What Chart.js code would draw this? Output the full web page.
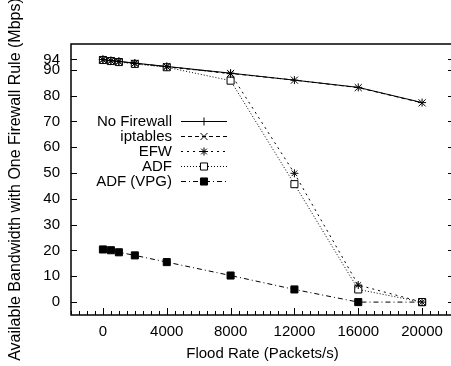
<!DOCTYPE html>
<html>
<head>
<meta charset="utf-8">
<script src="https://cdn.jsdelivr.net/npm/chart.js@4/dist/chart.umd.min.js"></script>
<style>
html, body { margin: 0; padding: 0; background: #fff; overflow: hidden; }
#wrap { width: 451px; height: 366px; overflow: hidden; }
</style>
</head>
<body>
<div id="wrap"><canvas id="chart" width="460" height="366"></canvas></div>
<script>
// values
const floodRates = [0, 500, 1000, 2000, 4000, 8000, 12000, 16000, 20000];
const noFirewall = [94.0, 93.6, 93.3, 92.6, 91.3, 88.7, 86.0, 83.2, 77.3];
const iptables   = [93.9, 93.5, 93.2, 92.5, 91.2, 88.6, 86.0, 83.1, 77.2];
const efw        = [94.0, 93.5, 93.2, 92.5, 91.2, 88.5, 49.9, 6.6, 0.0];
const adf        = [93.8, 93.4, 93.0, 92.3, 91.0, 85.8, 45.7, 4.9, 0.0];
const adfVpg     = [20.4, 20.1, 19.3, 18.1, 15.5, 10.3, 4.9, 0.0, 0.0];

const yTicks = [0, 10, 20, 30, 40, 50, 60, 70, 80, 90, 94];
const xTicks = [0, 4000, 8000, 12000, 16000, 20000];
const xMinorStep = 500;

const FONT = '"Liberation Sans", Arial, Helvetica, sans-serif';

const series = [
    { label: 'No Firewall', data: noFirewall, dash: [],           style: 'cross',    r: 4, fill: '#000' },
    { label: 'iptables',    data: iptables,   dash: [4, 3],       style: 'crossRot', r: 5, fill: '#000' },
    { label: 'EFW',         data: efw,        dash: [2, 4],       style: 'star',     r: 4, fill: '#000' },
    { label: 'ADF',         data: adf,        dash: [1, 2],       style: 'rect',     r: 5, fill: '#fff' },
    { label: 'ADF (VPG)',   data: adfVpg,     dash: [5, 3, 1, 3], style: 'rect',     r: 5, fill: '#000' }
];

const datasets = series.map(s => ({
    label: s.label,
    data: floodRates.map((x, i) => ({ x: x, y: s.data[i] })),
    borderColor: '#000',
    borderWidth: 1,
    borderDash: s.dash,
    pointStyle: s.style,
    pointRadius: s.r,
    pointBackgroundColor: s.fill,
    pointBorderColor: '#000',
    pointBorderWidth: 1,
    tension: 0,
    fill: false
}));

// gnuplot style frame with inward ticks
const framePlugin = {
    id: 'gpFrame',
    afterDraw(chart) {
        const { ctx, chartArea: a, scales: { x, y } } = chart;
        ctx.save();
        ctx.strokeStyle = '#000';
        ctx.lineWidth = 1.5;
        ctx.setLineDash([]);
        ctx.strokeRect(a.left, a.top, a.right - a.left, a.bottom - a.top);

        ctx.lineWidth = 1;
        ctx.beginPath();
        yTicks.forEach(v => {
            const py = Math.round(y.getPixelForValue(v)) + 0.5;
            ctx.moveTo(a.left, py); ctx.lineTo(a.left + 6, py);
            ctx.moveTo(a.right, py); ctx.lineTo(a.right - 6, py);
        });
        for (let v = x.min; v <= x.max; v += xMinorStep) {
            const px = Math.round(x.getPixelForValue(v)) + 0.5;
            const len = xTicks.includes(v) ? 7 : 4;
            ctx.moveTo(px, a.bottom); ctx.lineTo(px, a.bottom - len);
        }
        ctx.stroke();
        ctx.restore();
    }
};

// key placed inside the plot, text right aligned left of the sample
const legendPlugin = {
    id: 'gpLegend',
    afterDatasetsDraw(chart) {
        const ctx = chart.ctx;
        ctx.save();
        ctx.font = '15px ' + FONT;
        ctx.textAlign = 'right';
        ctx.textBaseline = 'middle';
        chart.data.datasets.forEach((ds, i) => {
            const yy = 121.5 + i * 15;
            ctx.fillStyle = '#000';
            ctx.fillText(ds.label, 172, yy);
            ctx.strokeStyle = '#000';
            ctx.lineWidth = 1;
            ctx.setLineDash(ds.borderDash);
            ctx.beginPath();
            ctx.moveTo(181, yy); ctx.lineTo(227, yy);
            ctx.stroke();
            ctx.setLineDash([]);
            ctx.fillStyle = ds.pointBackgroundColor;
            Chart.helpers.drawPoint(ctx, {
                pointStyle: ds.pointStyle, radius: ds.pointRadius, borderWidth: 1, rotation: 0
            }, 204, yy);
        });
        ctx.restore();
    }
};

new Chart(document.getElementById('chart'), {
    type: 'line',
    data: { datasets: datasets },
    plugins: [legendPlugin, framePlugin],
    options: {
        responsive: false,
        animation: false,
        layout: { padding: { top: 44, right: 6, left: 0, bottom: 0 } },
        plugins: { legend: { display: false }, tooltip: { enabled: false } },
        scales: {
            x: {
                type: 'linear',
                min: -2000,
                max: 22000,
                afterBuildTicks: s => { s.ticks = xTicks.map(v => ({ value: v })); },
                afterFit: s => { s.height = 51; },
                grid: { display: false, drawTicks: false },
                border: { display: false },
                ticks: {
                    color: '#000', font: { family: FONT, size: 15 }, padding: 8,
                    maxRotation: 0, autoSkip: false, callback: v => String(v)
                },
                title: {
                    display: true, text: 'Flood Rate (Packets/s)', color: '#000',
                    font: { family: FONT, size: 15 }, padding: { top: 0, bottom: 3 }
                }
            },
            y: {
                type: 'linear',
                min: -5,
                max: 100,
                afterBuildTicks: s => { s.ticks = yTicks.map(v => ({ value: v })); },
                afterFit: s => { s.width = 71; },
                grid: { display: false, drawTicks: false },
                border: { display: false },
                ticks: {
                    color: '#000', font: { family: FONT, size: 15 }, padding: 11,
                    autoSkip: false, callback: v => String(v)
                },
                title: {
                    display: true, text: 'Available Bandwidth with One Firewall Rule (Mbps)', color: '#000',
                    font: { family: FONT, size: 16 }, padding: { top: 6, bottom: 0 }
                }
            }
        }
    }
});
</script>
</body>
</html>
